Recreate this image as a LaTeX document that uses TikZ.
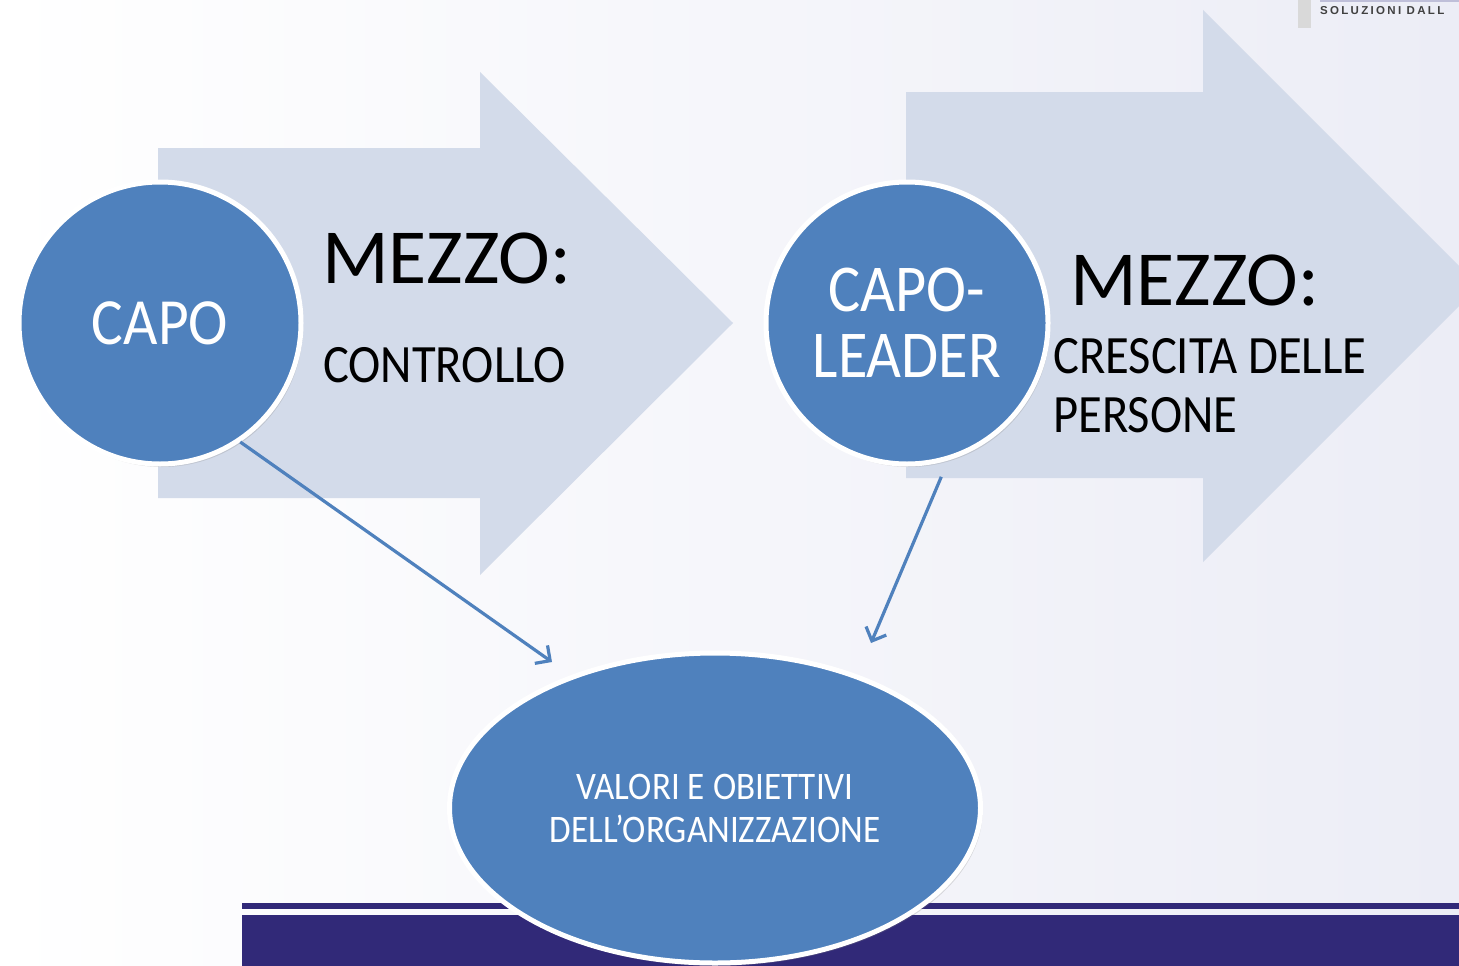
\documentclass[tikz,border=0pt]{standalone}
\usepackage{fontspec}
\setmainfont[FakeStretch=0.9]{Carlito}
\newfontfamily\widefont{Carlito}
\newfontfamily\logofont[LetterSpace=20]{Liberation Sans}
\usepackage{xcolor}
\usepackage{tikz}
\usetikzlibrary{arrows.meta,shapes.geometric,shadows,positioning,calc}

\definecolor{bubble}{RGB}{79,129,189}
\definecolor{pale}{RGB}{211,219,234}
\definecolor{navy}{RGB}{49,41,120}
\definecolor{backg}{RGB}{236,237,246}

\begin{document}
\begin{tikzpicture}[x=1pt,y=-1pt,
  bubble/.style={circle,fill=bubble,draw=white,line width=5pt,text=white,
    inner sep=0pt,align=center,minimum size=282pt,
    drop shadow={shadow xshift=2pt,shadow yshift=-3pt,opacity=0.25}},
  big/.style={anchor=base west,inner sep=0pt,font=\widefont\fontsize{78}{78}\selectfont},
  small/.style={anchor=base west,inner sep=0pt,align=left,font=\fontsize{54}{59}\selectfont},
  link/.style={->,>={Straight Barb[length=11pt,width=22pt]},draw=bubble,line width=3.2pt}]
\useasboundingbox (0,0) rectangle (1459,966);
\shade[left color=white,right color=backg] (0,0) rectangle (1459,966);

% logo
\fill[gray!30] (1298,0) rectangle (1311,28);
\draw[blue!25!gray!40,line width=2pt] (1320,1) -- (1459,1);
\node[anchor=base west,inner sep=0pt,text=black!75] (logo) at (1320,15)
  {\logofont\fontsize{11.5}{11.5}\selectfont\bfseries SOLUZIONI DALL};

% bottom bar
\fill[navy] (242,903) rectangle (1459,909);
\fill[navy] (242,915) rectangle (1459,966);

% frecce
\fill[pale] (158,148) -- (480,148) -- (480,72) -- (733,323) -- (480,575)
  -- (480,498) -- (158,498) -- cycle;
\fill[pale] (906,92) -- (1203,92) -- (1203,10) -- (1479,286) -- (1203,562)
  -- (1203,478) -- (906,478) -- cycle;

\node[bubble,font=\fontsize{66}{66}\selectfont] (capo) at (160,323) {CAPO};
\node[bubble,font=\fontsize{67}{66}\selectfont] (leader) at (907,323) {CAPO-\\LEADER};
\node[bubble,ellipse,minimum width=531pt,minimum height=310pt,
  font=\fontsize{39}{43}\selectfont] (valori) at (715,808)
  {VALORI E OBIETTIVI\\DELL'ORGANIZZAZIONE};

\node[big] (mezzo1) at (322,283) {MEZZO:};
\node[small] (controllo) at (323,382) {CONTROLLO};
\node[big] (mezzo2) at (1070,305) {MEZZO:};
\node[small] (crescita) at (1053,432) {CRESCITA DELLE\\PERSONE};

\coordinate (end1) at (552,662);
\coordinate (end2) at (871,643);
\draw[link] (capo.-56) -- (end1);
\draw[link] ($(leader.-77)+(2,14)$) -- (end2);
\end{tikzpicture}
\end{document}
